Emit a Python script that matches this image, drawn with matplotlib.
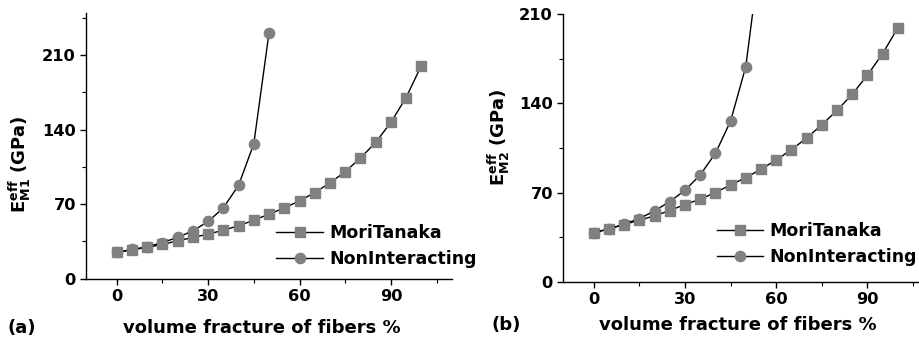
import matplotlib
matplotlib.use("Agg")
import matplotlib.pyplot as plt
from matplotlib.ticker import MultipleLocator

plt.rcParams['font.family'] = ['DejaVu Sans']
plt.rcParams['font.weight'] = 'bold'
plt.rcParams['mathtext.fontset'] = 'custom'
plt.rcParams['mathtext.rm'] = 'DejaVu Sans:bold'
plt.rcParams['mathtext.bf'] = 'DejaVu Sans:bold'
plt.rcParams['mathtext.it'] = 'DejaVu Sans:bold'

# ---- data ----
vf_mt = [0, 5, 10, 15, 20, 25, 30, 35, 40, 45, 50, 55, 60, 65, 70, 75, 80, 85, 90, 95, 100]
vf_ni_a = [0, 5, 10, 15, 20, 25, 30, 35, 40, 45, 50]
vf_ni_b = [0, 5, 10, 15, 20, 25, 30, 35, 40, 45, 50, 55]

mt_a = [24.7, 27.2, 29.4, 32.2, 35.6, 38.8, 41.9, 45.6, 49.7, 55.0, 60.6, 66.6, 73.1,
        80.9, 90.0, 100.6, 113.4, 128.1, 146.9, 170.3, 200.3]
ni_a = [24.7, 27.5, 30.0, 34.0, 38.8, 45.0, 53.8, 66.6, 87.8, 126.9, 231.3]

mt_b = [38.4, 41.5, 44.9, 48.3, 51.7, 55.9, 60.6, 64.8, 70.0, 76.0, 81.7, 88.3, 95.6,
        103.7, 112.8, 123.3, 134.5, 147.3, 162.2, 179.2, 199.5]
ni_b = [38.4, 41.5, 45.2, 49.6, 55.6, 62.9, 71.8, 83.8, 100.8, 126.1, 169.0, 262.0]

xticks = [0, 30, 60, 90]
yticks = [0, 70, 140, 210]
labels = ['MoriTanaka', 'NonInteracting']

gray = '#808080'
fig = plt.figure(figsize=(9.19, 3.48), dpi=100)

def setup(ax, xs_mt, ys_mt, xs_ni, ys_ni, ylim, ylabel, ylab_xy, xlab_xy, leg_xy):
    ax.plot(xs_mt, ys_mt, color='black', lw=1.0, marker='s', ms=6.6,
            mfc=gray, mec=gray, label=labels[0])
    ax.plot(xs_ni, ys_ni, color='black', lw=1.0, marker='o', ms=7.4,
            mfc=gray, mec=gray, label=labels[1])
    ax.set_xlim(-10, 110)
    ax.set_ylim(*ylim)
    ax.set_xticks(xticks)
    ax.set_yticks(yticks)
    ax.xaxis.set_minor_locator(MultipleLocator(15))
    ax.yaxis.set_minor_locator(MultipleLocator(35))
    for s in ['top', 'right']:
        ax.spines[s].set_visible(False)
    for s in ['left', 'bottom']:
        ax.spines[s].set_linewidth(1.0)
    ax.tick_params(which='major', direction='out', length=4.5, width=1.0, labelsize=11.7, pad=3)
    ax.tick_params(which='minor', direction='out', length=3, width=0.8)
    for t in ax.get_xticklabels() + ax.get_yticklabels():
        t.set_fontweight('bold')
    ax.set_ylabel(ylabel, fontsize=13, fontweight='bold')
    ax.yaxis.set_label_coords(*ylab_xy)
    ax.yaxis.label.set_verticalalignment('center')
    ax.set_xlabel('volume fracture of fibers %', fontsize=13, fontweight='bold')
    ax.xaxis.set_label_coords(*xlab_xy)
    ax.xaxis.label.set_verticalalignment('center')
    leg = ax.legend(loc='lower left', bbox_to_anchor=leg_xy, frameon=False, numpoints=1,
                    fontsize=12.5, handlelength=2.7, handletextpad=0.35, labelspacing=0.45,
                    borderpad=0, borderaxespad=0)
    for t in leg.get_texts():
        t.set_fontweight('bold')
    leg.set_clip_on(False)

ax1 = fig.add_axes([86.3/919, (348-278.7)/348, 365.5/919, 266/348])
setup(ax1, vf_mt, mt_a, vf_ni_a, ni_a, (0, 250), r'$\mathbf{E^{eff}_{M1}}$ (GPa)',
      (-0.183, 0.431), (0.48, -0.185), (0.52, 0.04))

ax2 = fig.add_axes([563.3/919, (348-281.7)/348, 365.0/919, 267.4/348])
setup(ax2, vf_mt, mt_b, vf_ni_b, ni_b, (0, 210), r'$\mathbf{E^{eff}_{M2}}$ (GPa)',
      (-0.176, 0.539), (0.479, -0.162), (0.42, 0.06))

fig.text(22/919, 1 - 328/348, '(a)', fontsize=13, fontweight='bold', ha='center', va='center')
fig.text(506/919, 1 - 325/348, '(b)', fontsize=13, fontweight='bold', ha='center', va='center')

fig.savefig('out.png', dpi=100)
